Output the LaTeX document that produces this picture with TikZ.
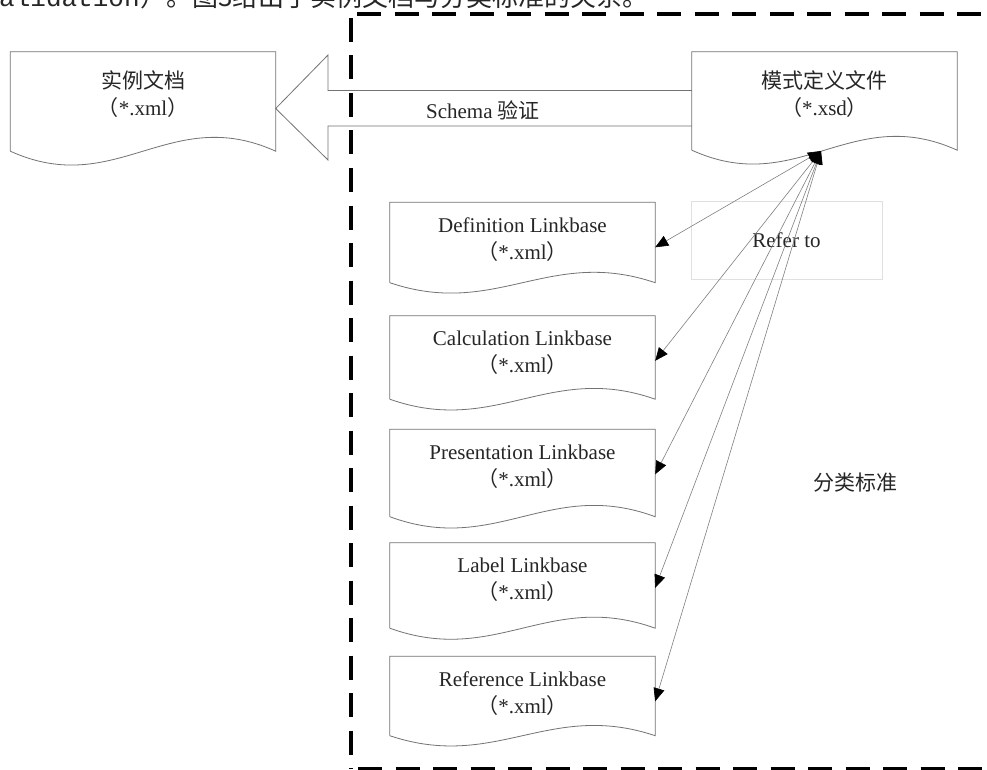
\documentclass[tikz,border=0pt]{standalone}
\usepackage{fontspec}
\setmainfont{Liberation Serif}
\newfontfamily\cjk{Noto Sans CJK SC}
\newfontfamily\monofnt{Liberation Mono}
\usetikzlibrary{arrows.meta,calc}
\tikzset{
  docbox/.style={minimum width=265pt, inner sep=0pt, draw=none},
  docline/.style={draw=black!55, line width=0.8pt},
  doctext/.style={align=center, inner sep=0pt, text=black!85, font=\fontsize{21}{27}\selectfont},
  refline/.style={draw=black!50, line width=0.6pt, {Triangle[length=13pt,width=11pt,black]}-{Triangle[length=13pt,width=11pt,black]}},
  bigdash/.style={draw=black, line width=3.5pt, dash pattern=on 24pt off 13.5pt},
  referbox/.style={draw=black!12, line width=0.6pt, minimum width=191pt, minimum height=78pt, inner sep=0pt, font=\fontsize{21}{27}\selectfont, text=black!85},
  hollowarrow/.style={draw=black!55, line width=0.8pt}
}
% #1 node name, #2 wave control offset
\newcommand\docoutline[2]{%
  \draw[docline] (#1.south west) -- (#1.north west) -- (#1.north east) -- (#1.south east)
    .. controls ($(#1.south east)+(-106,-#2)$) and ($(#1.south west)+(106,#2)$) .. (#1.south west);}
\begin{document}
\begin{tikzpicture}[x=1pt,y=-1pt]
\useasboundingbox (0,0) rectangle (987,770);
\fill[white] (0,0) rectangle (987,770);

% cropped caption line at top
\node[anchor=base west, inner sep=0pt, text=black!85, font=\monofnt\fontsize{26}{26}\selectfont] (toplat) at (-1,7) {alidation};
\node[anchor=base west, inner sep=0pt, text=black!85, font=\cjk\fontsize{26}{26}\selectfont] (topcjk) at (toplat.base east) {）。图3给出了实例文档与分类标准的关系。};

% dashed frame
\draw[bigdash] (351,18) -- (351,769);
\draw[bigdash] (357,14) -- (1000,14);
\draw[bigdash] (358,769) -- (1000,769);

% instance document
\node[docbox, minimum height=99pt] (inst) at (143,101.5) {};
\docoutline{inst}{48}
\node[doctext] (insttxt) at (143,94) {{\cjk 实例文档}\\{\cjk （}*.xml{\cjk ）}};

% schema document
\node[docbox, minimum height=98pt] (xsd) at (824.5,101) {};
\docoutline{xsd}{48}
\node[doctext] (xsdtxt) at (824.5,94) {{\cjk 模式定义文件}\\{\cjk （}*.xsd{\cjk ）}};

% hollow arrow (schema validation)
\coordinate (tip) at ($(inst.east)+(0,7)$);
\draw[hollowarrow] ($(xsd.west)+(0,-10.5)$) -- (328,90.5) -- (328,55) -- (tip) -- (328,160) -- (328,126) -- ($(xsd.west)+(0,25)$);
\node[doctext] (schemalbl) at (483,110) {Schema {\cjk 验证}};

% linkbase documents
\foreach \nm/\tp/\hh/\tt in {def/202.5/80/Definition Linkbase, calc/316/83/Calculation Linkbase, pres/429.5/87/Presentation Linkbase, lab/543/85/Label Linkbase, ref/656.5/79/Reference Linkbase}{
  \node[docbox, minimum height=\hh pt] (\nm) at (522.5,\tp+\hh/2) {};
  \pgfmathsetmacro\wv{0.45*\hh}
  \docoutline{\nm}{\wv}
  \node[doctext] (\nm txt) at (522.5,\tp+37) {\tt\\{\cjk （}*.xml{\cjk ）}};
}

% refer to box
\node[referbox] (refer) at (786.5,240) {Refer to};

% reference connectors
\coordinate (src) at (821,151);
\foreach \nm in {def,calc,pres,lab,ref}{
  \draw[refline] (src) -- ($(\nm.north east)+(0,45)$);
}

% taxonomy label
\node[doctext] (taxo) at (855,483) {\cjk 分类标准};
\end{tikzpicture}
\end{document}
